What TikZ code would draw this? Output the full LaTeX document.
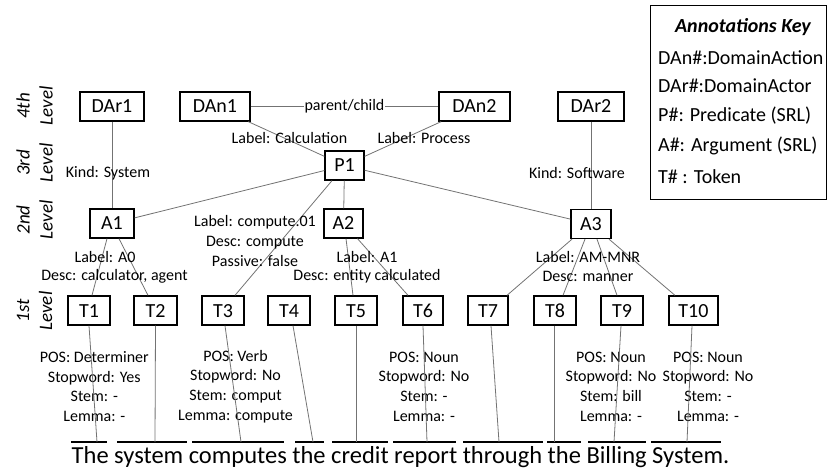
\documentclass[tikz,border=0pt]{standalone}
\usepackage{fontspec}
\setmainfont{Carlito}
\begin{document}
\begin{tikzpicture}[x=1pt,y=-1pt,
  box/.style={draw, line width=1.3pt, minimum height=29pt, inner sep=0pt, text height=13pt, text depth=0pt, font=\fontsize{20}{24}\selectfont},
  lbl/.style={inner sep=0pt, align=center, font=\fontsize{16}{19.7}\selectfont},
  conn/.style={draw=black!55, line width=0.8pt},
  lvl/.style={rotate=90, inner sep=0pt, align=center, font=\fontsize{19}{23}\selectfont\itshape},
  keytxt/.style={anchor=west, inner sep=0pt, font=\fontsize{20}{24}\selectfont},
  uline/.style={line width=1.3pt}]
\useasboundingbox (0,0) rectangle (827,470);

% level labels
\node[lvl] (L4) at (34.5,106) {4th\\Level};
\node[lvl] (L3) at (34.5,163) {3rd\\Level};
\node[lvl] (L2) at (34.5,220) {2nd\\Level};
\node[lvl] (L1) at (34.5,311) {1st\\Level};

% boxes
\node[box, minimum width=64pt] (DAr1) at (112,106.5) {DAr1};
\node[box, minimum width=70pt] (DAn1) at (215,106.5) {DAn1};
\node[box, minimum width=71pt] (DAn2) at (474.5,106.5) {DAn2};
\node[box, minimum width=66pt] (DAr2) at (591,106.5) {DAr2};
\node[box, minimum width=39pt] (P1) at (344.5,165.5) {P1};
\node[box, minimum width=44pt] (A1) at (112,223.5) {A1};
\node[box, minimum width=39pt] (A2) at (343.5,223.5) {A2};
\node[box, minimum width=40pt] (A3) at (591,224) {A3};
\foreach \i/\x/\w in {1/89/42, 2/155.5/43, 3/223/42, 4/289/42, 5/356/42, 6/423/40, 7/488/40, 8/555/42, 9/622/42, 10/693.5/49}
  \node[box, minimum width=\w pt] (T\i) at (\x,310.5) {T\i};

% key
\node[draw, line width=1.3pt, minimum width=176pt, minimum height=194pt, inner sep=0pt, anchor=north west] (key) at (650,5) {};
\node[inner sep=0pt, font=\fontsize{20}{24}\selectfont\bfseries\itshape] (keyh) at (743,27) {Annotations Key};
\node[keytxt] (k1) at (658,58) {DAn\#:DomainAction};
\node[keytxt] (k2) at (658,86) {DAr\#:DomainActor};
\node[keytxt] (k3) at (658,116) {P\#: Predicate (SRL)};
\node[keytxt] (k4) at (658,146) {A\#: Argument (SRL)};
\node[keytxt] (k5) at (658,177) {T\# : Token};

% connectors
\draw[conn] (DAn1) -- node[lbl, fill=white, inner xsep=1pt] (pc) {parent/child} (DAn2);
\draw[conn] (DAn1) -- (P1);
\draw[conn] (DAn2) -- (P1);
\draw[conn] (DAr1) -- (A1);
\draw[conn] (DAr2) -- (A3);
\draw[conn] (P1) -- (A1);
\draw[conn] (P1) -- (A2);
\draw[conn] (P1) -- (A3);
\draw[conn] ([xshift=-12.5pt]P1.south) -- ([xshift=12pt]T3.north);
\draw[conn] ([xshift=-5pt]A1.south) -- ([xshift=3pt]T1.north);
\draw[conn] ([xshift=7pt]A1.south) -- ([xshift=-7.5pt]T2.north);
\draw[conn] ([xshift=2.5pt]A2.south) -- ([xshift=-3pt]T5.north);
\draw[conn] ([xshift=14pt]A2.south) -- ([xshift=-15pt]T6.north);
\draw[conn] ([xshift=-19pt]A3.south) -- ([xshift=19pt]T7.north);
\draw[conn] ([xshift=-6pt]A3.south) -- ([xshift=8pt]T8.north);
\draw[conn] ([xshift=6pt]A3.south) -- ([xshift=-5pt]T9.north);
\draw[conn] ([xshift=18pt]A3.south) -- ([xshift=-18.5pt]T10.north);

% edge labels
\node[lbl] (lc) at (289.5,138) {Label: Calculation};
\node[lbl] (lp) at (424,138) {Label: Process};
\node[lbl] (ks) at (108,173) {Kind: System};
\node[lbl] (ksw) at (577,173) {Kind: Software};
\node[lbl] (lcomp) at (255,241) {Label: compute.01\\Desc: compute\\Passive: false};
\node[lbl] (la0) at (105,257) {Label: A0};
\node[lbl] (da0) at (114.5,276) {Desc: calculator, agent};
\node[lbl] (la1) at (367,257) {Label: A1};
\node[lbl] (da1) at (367,276) {Desc: entity calculated};
\node[lbl] (lam) at (588,257) {Label: AM-MNR};
\node[lbl] (dam) at (588,276) {Desc: manner};

% token annotations
\node[lbl] (b1) at (94.3,386.5) {POS: Determiner\\Stopword: Yes\\Stem: -\\Lemma: -};
\node[lbl] (b3) at (235.5,386.5) {POS: Verb\\Stopword: No\\Stem: comput\\Lemma: compute};
\node[lbl] (b6) at (424,386.5) {POS: Noun\\Stopword: No\\Stem: -\\Lemma: -};
\node[lbl] (b9) at (611,386.5) {POS: Noun\\Stopword: No\\Stem: bill\\Lemma: -};
\node[lbl] (b10) at (708,386.5) {POS: Noun\\Stopword: No\\Stem: -\\Lemma: -};

% underlines
\foreach \i/\a/\b in {1/71/107, 2/117/187, 3/192/284, 4/295/324, 5/332/388, 6/393/456, 7/463/543, 8/547/581, 9/588/646, 10/651/721} {
  \coordinate (wa\i) at (\a,442);
  \coordinate (wb\i) at (\b,442);
  \draw[uline] (wa\i) -- (wb\i);
}
\foreach \i/\u/\s in {1/97/0, 2/155/0, 3/241/2, 4/313/4, 5/356/0, 6/427/0, 7/499/3, 8/554/-1, 9/614/-1, 10/687/-1.5} {
  \coordinate (u\i) at (\u,442);
  \draw[conn] ([xshift=\s pt]T\i.south) -- (u\i);
}

% sentence
\node[anchor=base, inner sep=0pt, font=\fontsize{24.5}{28}\selectfont] (sent) at (400.5,463) {The system computes the credit report through the Billing System.};
\end{tikzpicture}
\end{document}
